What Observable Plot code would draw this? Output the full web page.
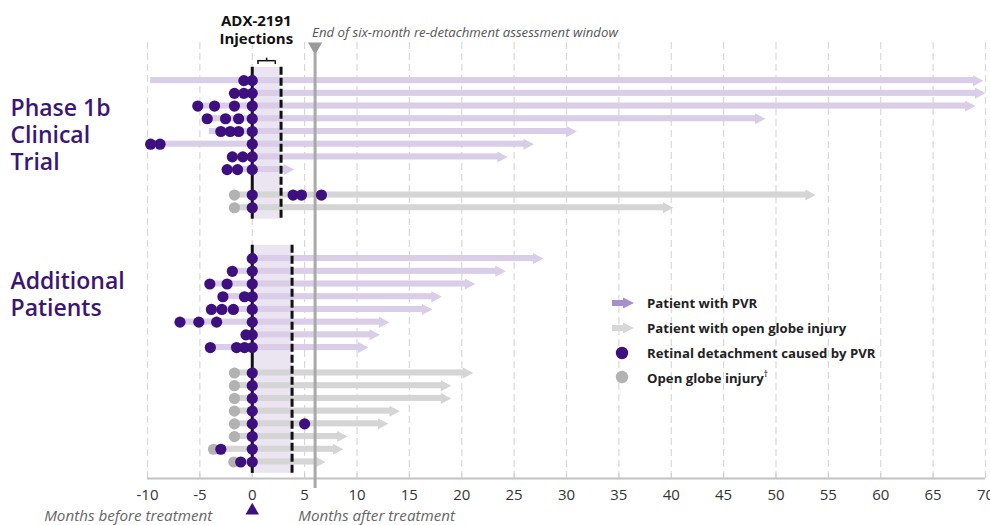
<!DOCTYPE html>
<html><head><meta charset="utf-8">
<script src="https://cdn.jsdelivr.net/npm/d3@7"></script>
<script src="https://cdn.jsdelivr.net/npm/@observablehq/plot@0.6"></script>
<style>
body{margin:0;background:#fff;font-family:"Open Sans",sans-serif;}
#wrap{position:relative;width:990px;height:525px;}
#legend{position:absolute;left:611px;top:291px;}
.row{display:flex;align-items:center;height:24.7px;font-weight:700;font-size:13.2px;color:#222;white-space:nowrap}
.row svg{width:24px;height:14px;margin-right:12px;flex:none}
.row sup{font-size:8px;font-weight:600;vertical-align:6px}
</style></head><body><div id="wrap"><div id="legend"></div></div>
<script>
// ---- data ----
const groupNames = ["Phase 1b\nClinical\nTrial", "Additional\nPatients"];
const injectionWindow = [2.75, 3.8];      // months of ADX-2191 injections per group

const p1bType  = ["PVR","PVR","PVR","PVR","PVR","PVR","PVR","PVR","OGI","OGI"];
const p1bStart = [-9.7, -1.7, -5.2, -4.3, -4.1, -9.7, -1.9, -2.4, -1.7, -1.7];
const p1bEnd   = [69.8, 70, 69.05, 49.0, 31.0, 26.9, 24.4, 4.0, 53.8, 40.2];
const p1bRD    = [[-0.8,0],[-1.7,-0.8,0],[-5.2,-3.6,-1.7,0],[-4.3,-2.55,-1.3,0],[-3.0,-2.1,-1.3,0],[-9.7,-8.8,0],[-1.9,-0.9,0],[-2.4,-1.4,0],[0,3.9,4.7,6.6],[0]];
const p1bOGI   = [[],[],[],[],[],[],[],[],[-1.7],[-1.7]];

const addType  = ["PVR","PVR","PVR","PVR","PVR","PVR","PVR","PVR","OGI","OGI","OGI","OGI","OGI","OGI","OGI","OGI"];
const addStart = [0, -1.9, -4.05, -2.8, -3.9, -6.9, -0.6, -4.0, -1.7, -1.7, -1.7, -1.7, -1.7, -1.7, -3.7, -1.76];
const addEnd   = [27.8, 24.2, 21.3, 18.1, 17.2, 13.1, 12.2, 11.1, 21.1, 19.0, 19.0, 14.1, 13.0, 9.1, 8.7, 7.0];
const addRD    = [[0],[-1.9,0],[-4.05,-2.4,0],[-2.8,-0.74,0],[-3.9,-2.9,-1.8,0],[-6.9,-5.1,-3.4,0],[-0.6,0],[-4.0,-1.5,-0.74,0],[0],[0],[0],[0],[0,5.0],[0],[-3.0,0],[-1.1,0]];
const addOGI   = [[],[],[],[],[],[],[],[],[-1.7],[-1.7],[-1.7],[-1.7],[-1.7],[-1.7],[-3.7],[-1.76]];

const assessmentEnd = 6;
const xTicks = [-10,-5,0,5,10,15,20,25,30,35,40,45,50,55,60,65,70];
const headerText = "ADX-2191\nInjections";
const windowText = "End of six-month re-detachment assessment window";
const beforeText = "Months before treatment";
const afterText = "Months after treatment";
const legendLabels = ["Patient with PVR", "Patient with open globe injury", "Retinal detachment caused by PVR", "Open globe injury"];

// ---- styles ----
const barColor = {PVR: "#d9cde7", OGI: "#d5d5d5"};
const purple = "#3e0f7e", grayDot = "#b2b2b2";

// ---- build rows ----
const groups = [
  {name: groupNames[0], type: p1bType, start: p1bStart, end: p1bEnd, rd: p1bRD, ogi: p1bOGI, win: injectionWindow[0]},
  {name: groupNames[1], type: addType, start: addStart, end: addEnd, rd: addRD, ogi: addOGI, win: injectionWindow[1]}
];
let idx = 0;
const patients = [], groupInfo = [];
groups.forEach((g, gi) => {
  if (gi > 0) idx += 3;
  const first = idx;
  g.type.forEach((t, i) => {
    if (i > 0 && t !== g.type[i-1]) idx += 1;
    patients.push({type: t, row: idx, start: g.start[i], end: g.end[i], rd: g.rd[i], ogi: g.ogi[i]});
    idx++;
  });
  groupInfo.push({name: g.name, first, last: idx - 1, win: g.win, top: first - 1.05, bottom: idx - 1 + 0.9,
                  labelRow: first + (gi === 0 ? 1.3 : 0.9)});
});
const rdDots = patients.flatMap(p => p.rd.map(x => ({x, row: p.row})));
const ogiDots = patients.flatMap(p => p.ogi.map(x => ({x, row: p.row})));
const yMin = -3, yMax = 31.3;

const arrowHead = {draw(ctx, size) {
  const r = Math.sqrt(size / Math.PI);
  ctx.moveTo(0, 0); ctx.lineTo(-1.9*r, -r); ctx.lineTo(-1.9*r, r); ctx.closePath();
}};

// bracket over first injection window
const gb = groupInfo[0];
const bx1 = gb.win * 0.2, bx2 = gb.win * 0.8, by = gb.top - 0.52;

const chart = Plot.plot({
  width: 990, height: 525,
  marginLeft: 147, marginRight: 5, marginTop: 42, marginBottom: 47,
  x: {domain: [-10, 70], ticks: xTicks, tickSize: 0, tickPadding: 11, label: null, tickFormat: d => String(d)},
  y: {domain: [yMin, yMax], reverse: true, axis: null},
  color: {type: "identity"},
  style: {fontFamily: "Open Sans", fontSize: "15px", color: "#333", background: "#fff"},
  marks: [
    Plot.ruleX(xTicks, {stroke: "#d9d9d9", strokeWidth: 1.2, strokeDasharray: "7,4"}),
    Plot.ruleY([yMax], {stroke: "#c2c2c2", strokeWidth: 2}),
    Plot.ruleX(xTicks, {y1: () => yMax, y2: () => yMax, insetTop: -5, stroke: "#cfcfcf", strokeWidth: 1}),
    Plot.rect(groupInfo, {x1: () => 0, x2: "win", y1: "top", y2: "bottom", fill: "#ebe5f2"}),
    Plot.rect(patients, {x1: "start", x2: "end", y1: d => d.row - 0.24, y2: d => d.row + 0.24, insetRight: 9, fill: d => barColor[d.type]}),
    Plot.dot(patients, {x: "end", y: "row", symbol: arrowHead, r: 5.5, fill: d => barColor[d.type]}),
    Plot.ruleX([assessmentEnd], {stroke: "#a9a9a9", strokeWidth: 3, insetTop: 11, insetBottom: -10}),
    Plot.dot([assessmentEnd], {x: d => d, frameAnchor: "top", dy: 4, symbol: "triangle", rotate: 180, r: 5.3, fill: "#9a9a9a"}),
    Plot.ruleX(groupInfo, {x: () => 0, y1: "top", y2: "bottom", stroke: "#111", strokeWidth: 3}),
    Plot.ruleX(groupInfo, {x: "win", y1: "top", y2: "bottom", stroke: "#111", strokeWidth: 3, strokeDasharray: "8,3"}),
    Plot.ruleY([by], {x1: () => bx1, x2: () => bx2, stroke: "#111", strokeWidth: 1.5}),
    Plot.ruleX([bx1, bx2], {x: d => d, y1: () => by, y2: () => by + 0.3, stroke: "#111", strokeWidth: 1.5}),
    Plot.ruleX([(bx1 + bx2) / 2], {x: d => d, y1: () => by, y2: () => by - 0.2, stroke: "#111", strokeWidth: 1.5}),
    Plot.dot(ogiDots, {x: "x", y: "row", r: 5.6, fill: grayDot}),
    Plot.dot(rdDots, {x: "x", y: "row", r: 5.6, fill: purple}),
    Plot.text(groupInfo, {x: () => -10, y: "labelRow", text: "name", dx: -137, textAnchor: "start", lineAnchor: "top", fontSize: 23, fontWeight: 600, fill: "#3b1675", lineHeight: 1.17}),
    Plot.text([headerText], {x: () => 0, dx: 4, frameAnchor: "top", dy: 1, lineAnchor: "bottom", fontWeight: 700, fontSize: 15, fill: "#111", lineHeight: 1.2}),
    Plot.text([windowText], {x: () => assessmentEnd, dx: -3, frameAnchor: "top", dy: -6, lineAnchor: "bottom", textAnchor: "start", fontStyle: "italic", fontSize: 13.2, fill: "#555"}),
    Plot.text([beforeText], {x: () => 0, dx: -40, frameAnchor: "bottom", dy: 38, lineAnchor: "middle", textAnchor: "end", fontStyle: "italic", fontSize: 15.2, fill: "#666"}),
    Plot.text([afterText], {x: () => 0, dx: 46, frameAnchor: "bottom", dy: 38, lineAnchor: "middle", textAnchor: "start", fontStyle: "italic", fontSize: 15.2, fill: "#666"}),
    Plot.dot([0], {x: d => d, frameAnchor: "bottom", dy: 32, symbol: "triangle", r: 5, fill: purple})
  ]
});
document.getElementById("wrap").prepend(chart);

// legend
const icons = [
  `<svg viewBox="0 0 24 14"><rect x="1" y="4" width="13" height="6" fill="#a78ecd"/><path d="M23 7 L12 1.5 L12 12.5 Z" fill="#a78ecd"/></svg>`,
  `<svg viewBox="0 0 24 14"><rect x="1" y="4" width="13" height="6" fill="#d8d8d8"/><path d="M23 7 L12 1.5 L12 12.5 Z" fill="#d8d8d8"/></svg>`,
  `<svg viewBox="0 0 24 14"><circle cx="11" cy="7" r="6.2" fill="${purple}"/></svg>`,
  `<svg viewBox="0 0 24 14"><circle cx="11" cy="7" r="6.2" fill="${grayDot}"/></svg>`
];
document.getElementById("legend").innerHTML = legendLabels.map((l, i) =>
  `<div class="row">${icons[i]}<span>${l}${i === 3 ? "<sup>†</sup>" : ""}</span></div>`).join("");
</script></body></html>
